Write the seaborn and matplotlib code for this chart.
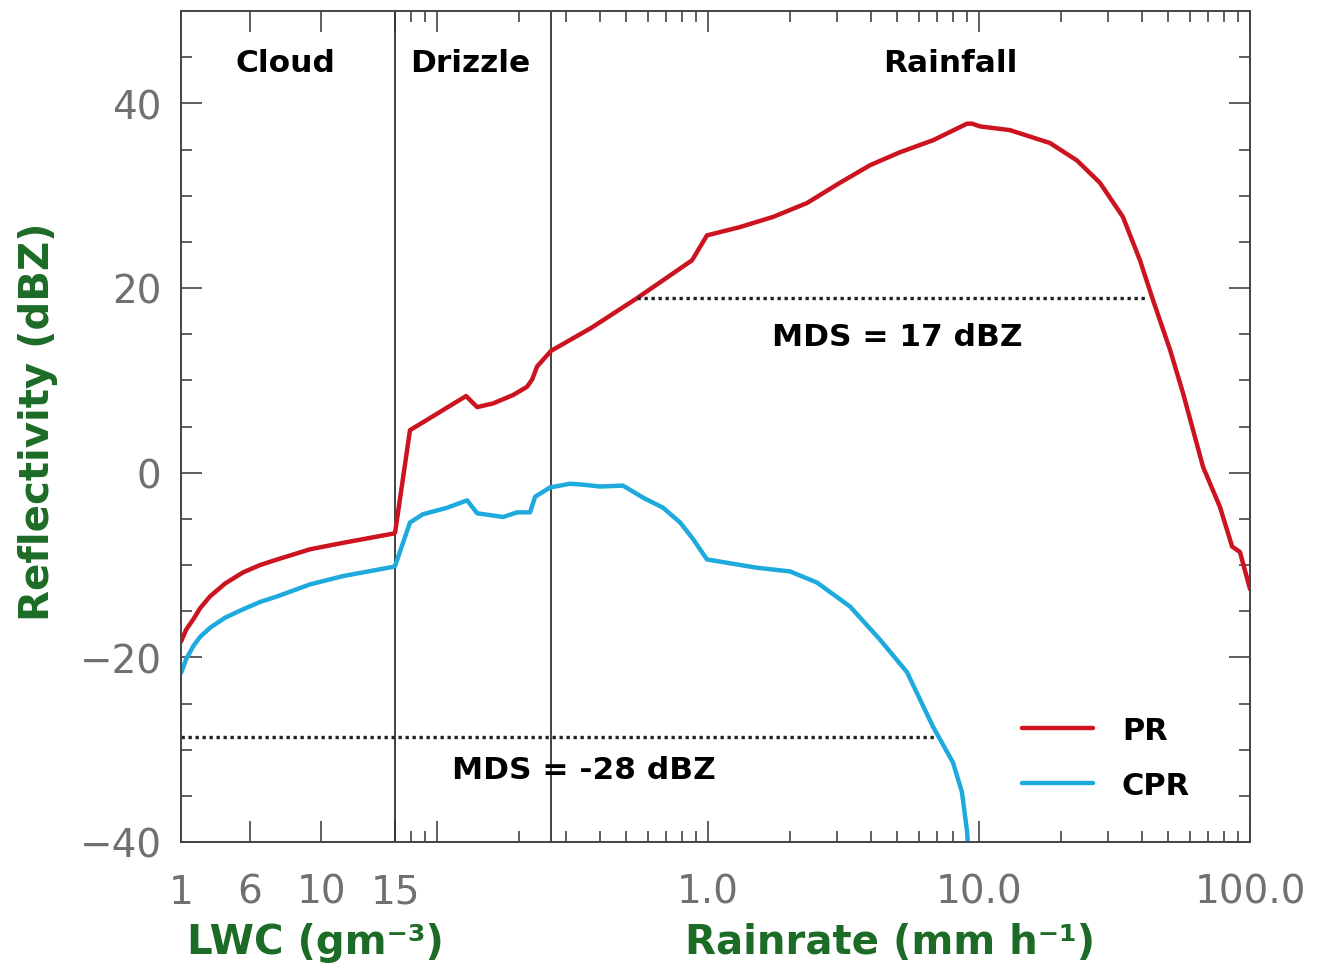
import numpy as np
import pandas as pd
import matplotlib
matplotlib.use("Agg")
import matplotlib.pyplot as plt
import seaborn as sns

# ---- data (x = log10 of rain-rate-equivalent axis position, y = reflectivity dBZ)
pr_x = [-1.945, -1.926, -1.900, -1.875, -1.838, -1.782, -1.716, -1.653, -1.590,
        -1.469, -1.347, -1.162, -1.155,
        -1.100, -0.904, -0.893, -0.852, -0.793, -0.720, -0.668, -0.649, -0.631,
        -0.579, -0.430, -0.262, -0.059, -0.004, 0.118, 0.240, 0.365, 0.487,
        0.598, 0.708, 0.830, 0.956, 0.974, 1.004, 1.114, 1.262, 1.362, 1.446,
        1.531, 1.594, 1.642, 1.705, 1.753, 1.827, 1.889, 1.934, 1.963, 2.000]
pr_y = [-18.3, -17.0, -15.9, -14.7, -13.4, -12.0, -10.8, -10.0, -9.4,
        -8.3, -7.6, -6.6, -6.5,
        4.6, 8.1, 8.3, 7.1, 7.5, 8.4, 9.3, 10.1, 11.5,
        13.2, 15.7, 18.9, 23.0, 25.7, 26.6, 27.7, 29.2, 31.4,
        33.3, 34.7, 36.0, 37.8, 37.8, 37.5, 37.1, 35.7, 33.8, 31.4,
        27.7, 23.0, 18.7, 13.3, 8.6, 0.6, -3.7, -8.0, -8.6, -12.6]

cpr_x = [-1.945, -1.926, -1.900, -1.875, -1.838, -1.782, -1.716, -1.653, -1.590,
         -1.469, -1.347, -1.162, -1.155,
         -1.100, -1.052, -0.963, -0.889, -0.852, -0.756, -0.705, -0.657, -0.638,
         -0.583, -0.509, -0.461, -0.399, -0.314, -0.240, -0.166, -0.103, -0.055,
         -0.004, 0.181, 0.303, 0.402, 0.524, 0.635, 0.734, 0.830, 0.904, 0.937,
         0.956, 0.963]
cpr_y = [-21.7, -20.2, -18.8, -17.8, -16.8, -15.7, -14.8, -14.0, -13.4,
         -12.1, -11.2, -10.2, -10.1,
         -5.4, -4.5, -3.8, -3.0, -4.4, -4.8, -4.3, -4.3, -2.6,
         -1.6, -1.2, -1.3, -1.5, -1.4, -2.7, -3.8, -5.4, -7.2,
         -9.4, -10.3, -10.7, -11.9, -14.5, -18.1, -21.6, -27.5, -31.4, -34.6,
         -38.9, -42.0]

series_names = ["PR", "CPR"]
series_colors = ["#cc1420", "#1eaadc"]

# axis ticks
lwc_tick_pos = [-1.945, -1.690, -1.428, -1.155]
lwc_tick_labels = ["1", "6", "10", "15"]
rain_tick_vals = [0.1, 1.0, 10.0, 100.0]
rain_tick_labels = ["", "1.0", "10.0", "100.0"]
rain_minor_vals = [0.08, 0.09] + [k * 10.0 ** n for n in (-1, 0, 1) for k in range(2, 10)]

region_bounds = [-1.155, -0.579]
region_names = ["Cloud", "Drizzle", "Rainfall"]
region_text_x = [-1.561, -0.878, 0.893]

mds_pr = 18.9
mds_pr_span = [-0.262, 1.62]
mds_cpr = -28.6
mds_cpr_span = [-1.945, 0.845]
mds_labels = ["MDS = 17 dBZ", "MDS = -28 dBZ"]

# ---- figure
sns.set_theme(style="ticks")
plt.rcParams["font.family"] = ["DejaVu Sans"]

fig = plt.figure(figsize=(13.21, 9.70), dpi=100)
ax = fig.add_axes([181 / 1321, 1 - 843 / 970, (1250 - 181) / 1321, (843 - 12) / 970])

df = pd.concat([
    pd.DataFrame({"x": pr_x, "y": pr_y, "radar": series_names[0]}),
    pd.DataFrame({"x": cpr_x, "y": cpr_y, "radar": series_names[1]}),
])
sns.lineplot(data=df, x="x", y="y", hue="radar", palette=dict(zip(series_names, series_colors)),
             sort=False, estimator=None, linewidth=3.2, ax=ax, legend=True)
for ln in ax.get_lines():
    ln.set_solid_joinstyle("round")
    ln.set_solid_capstyle("round")

for b in region_bounds:
    ax.axvline(b, color="#333333", lw=1.3, zorder=1)

ax.plot(mds_pr_span, [mds_pr, mds_pr], color="#222222", lw=2.4, ls=(0, (1, 1.1)))
ax.plot(mds_cpr_span, [mds_cpr, mds_cpr], color="#222222", lw=2.4, ls=(0, (1, 1.1)))

ax.set_xlim(-1.945, 2.0)
ax.set_ylim(-40, 50)

for name, xt in zip(region_names, region_text_x):
    ax.text(xt, 44.4, name, ha="center", va="center", fontsize=22.5, fontweight="bold", color="black")
ax.text(0.697, 14.7, mds_labels[0], ha="center", va="center", fontsize=22.5, fontweight="bold", color="black")
ax.text(-0.4576, -32.1, mds_labels[1], ha="center", va="center", fontsize=22.5, fontweight="bold", color="black")

# ticks
ax.set_xticks(lwc_tick_pos + list(np.log10(rain_tick_vals)))
ax.set_xticklabels(lwc_tick_labels + rain_tick_labels)
ax.set_xticks(list(np.log10(rain_minor_vals)), minor=True)
ax.set_yticks([-40, -20, 0, 20, 40])
ax.set_yticks(np.arange(-35, 50, 5), minor=True)
ax.tick_params(which="both", direction="in", top=True, right=True, color="#444444", width=1.2)
ax.tick_params(which="major", length=15, labelsize=28, labelcolor="#707070")
ax.tick_params(which="minor", length=8)
ax.tick_params(axis="x", which="major", pad=22)
ax.tick_params(axis="y", which="major", pad=14)
for s in ax.spines.values():
    s.set_color("#444444")
    s.set_linewidth(1.4)
ax.set_xlabel("")
ax.set_ylabel("")

green = "#1c6b26"
fig.text(38 / 1321, 1 - 422 / 970, "Reflectivity (dBZ)", rotation=90, ha="center", va="center",
         fontsize=29, fontweight="bold", color=green)
fig.text(315 / 1321, 1 - 943 / 970, "LWC (gm⁻³)", ha="center", va="center",
         fontsize=29, fontweight="bold", color=green)
fig.text(890 / 1321, 1 - 943 / 970, "Rainrate (mm h⁻¹)", ha="center", va="center",
         fontsize=29, fontweight="bold", color=green)

handles, labels = ax.get_legend_handles_labels()
leg = ax.legend(handles, labels, loc="upper left", bbox_to_anchor=((1022 - 181) / 1069, (843 - 717) / 831),
                frameon=False, borderpad=0, borderaxespad=0, handlelength=2.32, handletextpad=0.95,
                labelspacing=0.85, prop={"size": 22, "weight": "bold"})
for line in leg.get_lines():
    line.set_linewidth(3.2)
for t in leg.get_texts():
    t.set_color("black")

fig.savefig("out.png", dpi=100)
